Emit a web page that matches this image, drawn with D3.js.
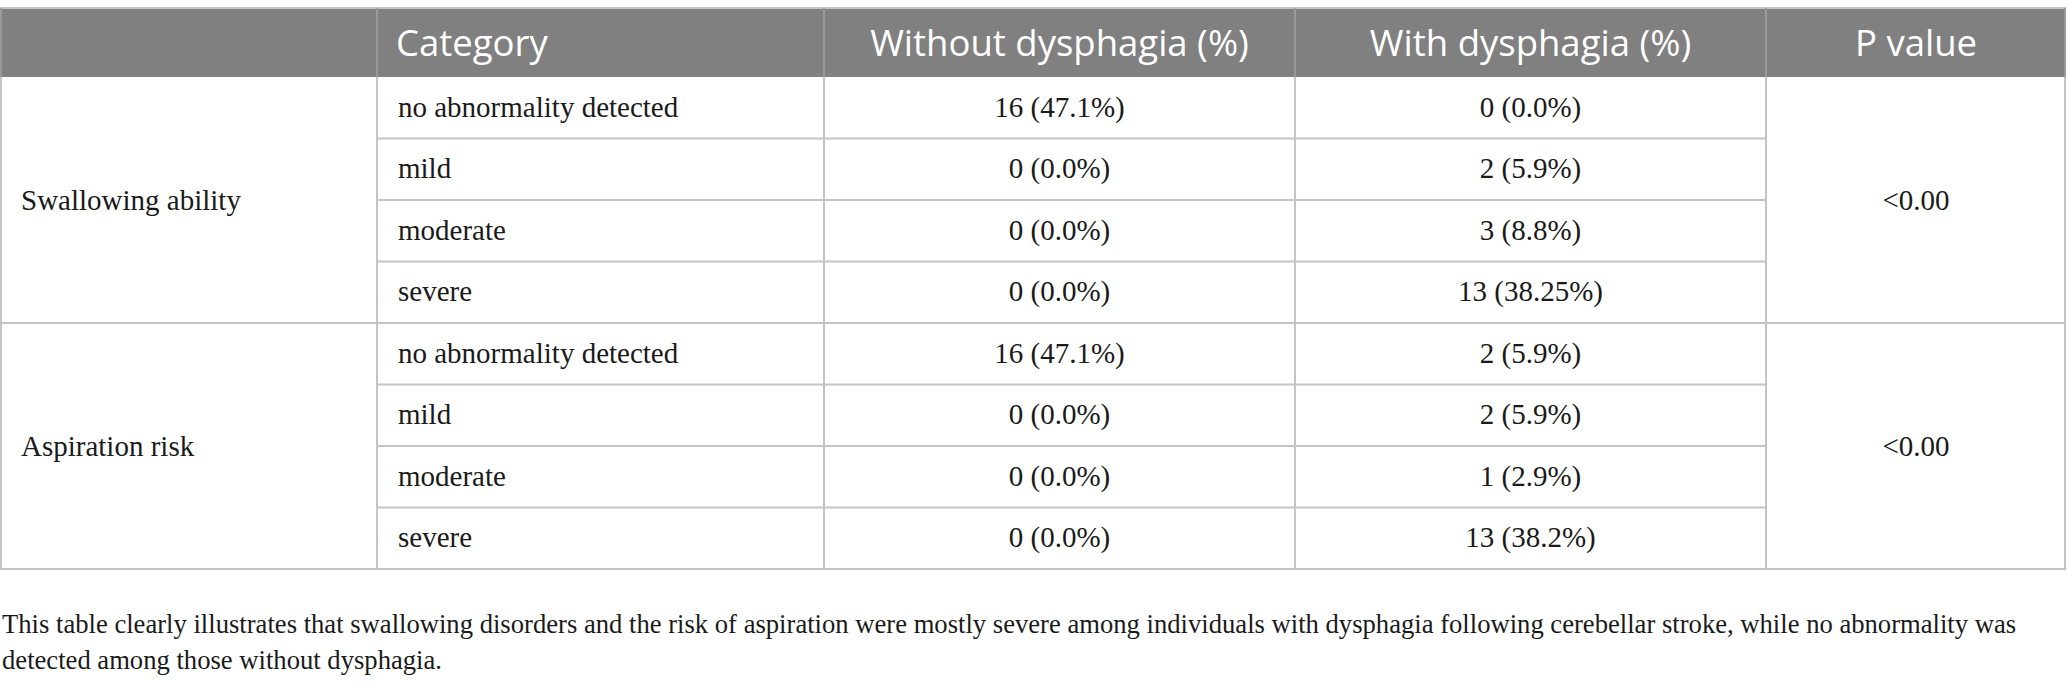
<!DOCTYPE html>
<html>
<head>
<meta charset="utf-8">
<script src="https://cdn.jsdelivr.net/npm/d3@7"></script>
<style>
  body { margin: 0; background: #fff; }
  svg { display: block; }
</style>
</head>
<body>
<svg class="table"></svg>
<script>
// table content
var headers = ["", "Category", "Without dysphagia (%)", "With dysphagia (%)", "P value"];
var groups = ["Swallowing ability", "Aspiration risk"];
var categories = ["no abnormality detected", "mild", "moderate", "severe"];
var withoutCount = [[16, 0, 0, 0], [16, 0, 0, 0]];
var withoutPct = [["47.1", "0.0", "0.0", "0.0"], ["47.1", "0.0", "0.0", "0.0"]];
var withCount = [[0, 2, 3, 13], [2, 2, 1, 13]];
var withPct = [["0.0", "5.9", "8.8", "38.25"], ["5.9", "5.9", "2.9", "38.2"]];
var pValues = ["<0.00", "<0.00"];
var captionLines = [
  "This table clearly illustrates that swallowing disorders and the risk of aspiration were mostly severe among individuals with dysphagia following cerebellar stroke, while no abnormality was",
  "detected among those without dysphagia."
];

var width = 2067, height = 687;
var headTop = 8, headBottom = 77, tableBottom = 569;
var colEdges = [0, 377, 824, 1295, 1766, 2066];
var pad = 21;
var bodySize = 29;
var lineColor = "#c4c4c4";
var headColor = "#808080";
var serif = "'Liberation Serif', 'DejaVu Serif', serif";
var sans = "'Open Sans', 'Noto Sans', sans-serif";

var svg = d3.select("svg.table")
            .attr("width", width)
            .attr("height", height);

svg.append("rect")
   .attr("width", width)
   .attr("height", height)
   .attr("fill", "#fff");

// flatten rows
var rows = [];
groups.forEach(function(g, gi){
  categories.forEach(function(c, ci){
    rows.push({
      group: gi, cat: ci,
      cells: [c,
              withoutCount[gi][ci] + " (" + withoutPct[gi][ci] + "%)",
              withCount[gi][ci] + " (" + withPct[gi][ci] + "%)"]
    });
  });
});

var yScale = d3.scaleBand()
               .domain(d3.range(rows.length))
               .range([headBottom, tableBottom])
               .paddingInner(0).paddingOuter(0);
var rowH = yScale.bandwidth();

// header band
svg.append("rect")
   .attr("x", colEdges[0])
   .attr("y", headTop)
   .attr("width", colEdges[5] - colEdges[0])
   .attr("height", headBottom - headTop)
   .attr("fill", headColor);

svg.selectAll("text.head")
   .data(headers)
   .enter()
   .append("text")
   .classed("head", true)
   .attr("x", function(d, i){
     if(i < 2){ return colEdges[i] + pad - 2; }
     return (colEdges[i] + colEdges[i+1]) / 2;
   })
   .attr("y", (headTop + headBottom) / 2 + 13)
   .attr("text-anchor", function(d, i){ return i < 2 ? "start" : "middle"; })
   .attr("font-family", sans)
   .attr("font-size", 36.5)
   .attr("fill", "#fff")
   .text(function(d){ return d; });

// body cells
var rowG = svg.selectAll("g.row")
              .data(rows)
              .enter()
              .append("g")
              .classed("row", true);

rowG.selectAll("text")
    .data(function(d, i){
      return d.cells.map(function(t, j){ return {t: t, col: j + 1, row: i}; });
    })
    .enter()
    .append("text")
    .attr("x", function(d){
      if(d.col === 1){ return colEdges[1] + pad; }
      return (colEdges[d.col] + colEdges[d.col+1]) / 2;
    })
    .attr("y", function(d){ return yScale(d.row) + rowH / 2 + 9; })
    .attr("text-anchor", function(d){ return d.col === 1 ? "start" : "middle"; })
    .attr("font-family", serif)
    .attr("font-size", bodySize)
    .attr("fill", "#1a1a1a")
    .text(function(d){ return d.t; });

// merged group cells: label and p value
function groupMid(gi){
  var first = gi * categories.length;
  var last = first + categories.length - 1;
  return (yScale(first) + yScale(last) + rowH) / 2;
}

svg.selectAll("text.group")
   .data(groups)
   .enter()
   .append("text")
   .classed("group", true)
   .attr("x", colEdges[0] + pad)
   .attr("y", function(d, i){ return groupMid(i) + 10; })
   .attr("font-family", serif)
   .attr("font-size", bodySize)
   .attr("fill", "#1a1a1a")
   .text(function(d){ return d; });

svg.selectAll("text.pval")
   .data(pValues)
   .enter()
   .append("text")
   .classed("pval", true)
   .attr("x", (colEdges[4] + colEdges[5]) / 2)
   .attr("y", function(d, i){ return groupMid(i) + 10; })
   .attr("text-anchor", "middle")
   .attr("font-family", serif)
   .attr("font-size", bodySize)
   .attr("fill", "#1a1a1a")
   .text(function(d){ return d; });

// grid lines
var lines = svg.append("g")
               .attr("stroke", lineColor)
               .attr("stroke-width", 2)
               .attr("fill", "none");

// horizontal: inner rows only span category..with columns, group ends span all
rows.forEach(function(r, i){
  if(i === 0){ return; }
  var full = (r.cat === 0);
  lines.append("line")
       .attr("x1", full ? colEdges[0] : colEdges[1])
       .attr("x2", full ? colEdges[5] : colEdges[4])
       .attr("y1", yScale(i))
       .attr("y2", yScale(i));
});
lines.append("line")
     .attr("x1", colEdges[0]).attr("x2", colEdges[5])
     .attr("y1", tableBottom).attr("y2", tableBottom);
lines.append("line")
     .attr("x1", colEdges[0]).attr("x2", colEdges[5])
     .attr("y1", headTop).attr("y2", headTop);

// vertical lines
colEdges.forEach(function(x, i){
  var xx = (i === 0) ? x + 1 : (i === colEdges.length - 1 ? x - 1 : x);
  lines.append("line")
       .attr("x1", xx).attr("x2", xx)
       .attr("y1", headBottom).attr("y2", tableBottom)
       .attr("stroke", lineColor);
  lines.append("line")
       .attr("x1", xx).attr("x2", xx)
       .attr("y1", headTop).attr("y2", headBottom)
       .attr("stroke", "#999");
});

// caption, sized so the first line spans like the reference
var cap = svg.selectAll("text.caption")
             .data(captionLines)
             .enter()
             .append("text")
             .classed("caption", true)
             .attr("x", 2)
             .attr("y", function(d, i){ return 633 + i * 36; })
             .attr("font-family", serif)
             .attr("font-size", 28)
             .attr("fill", "#1a1a1a")
             .text(function(d){ return d; });
var len = cap.nodes()[0].getComputedTextLength();
var capSize = 28 * 2016 / len;
cap.attr("font-size", capSize);
</script>
</body>
</html>
